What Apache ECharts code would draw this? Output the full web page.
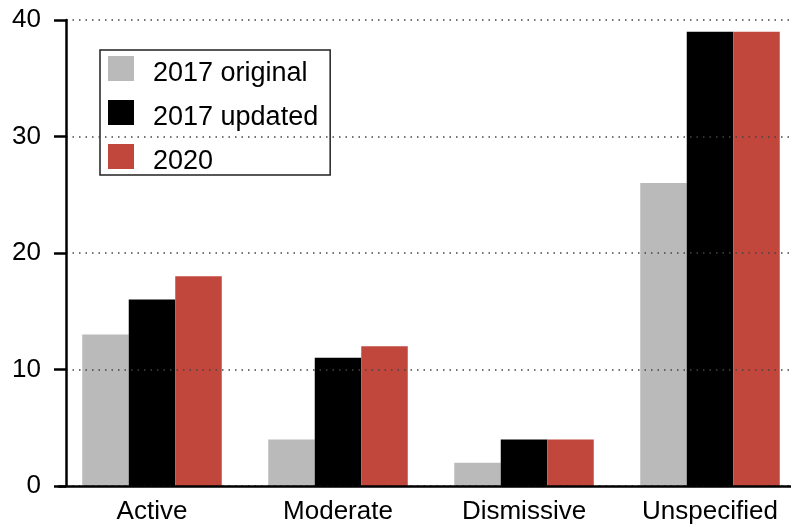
<!DOCTYPE html>
<html>
<head>
<meta charset="utf-8">
<script src="https://cdn.jsdelivr.net/npm/echarts@6/dist/echarts.min.js"></script>
<style>
  html, body { margin: 0; padding: 0; background: #fff; }
  #chart { width: 791px; height: 527px; }
</style>
</head>
<body>
<div id="chart"></div>
<script>
// Counts by stance category for each survey round
const categories = ['Active', 'Moderate', 'Dismissive', 'Unspecified'];
const seriesNames = ['2017 original', '2017 updated', '2020'];
const original2017 = [13, 4, 2, 26];
const updated2017 = [16, 11, 4, 39];
const values2020 = [18, 12, 4, 39];
const yTicks = [0, 10, 20, 30, 40];

const colors = ['#bababa', '#000000', '#c1473c'];
const FONT = 'Liberation Sans, Arial, sans-serif';

const chart = echarts.init(document.getElementById('chart'), null, { renderer: 'canvas' });

const yMin = yTicks[0];
const yMax = yTicks[yTicks.length - 1];
const yStep = yTicks[1] - yTicks[0];

chart.setOption({
  animation: false,
  backgroundColor: '#ffffff',
  color: colors,
  legend: {
    data: seriesNames,
    orient: 'vertical',
    left: 100,
    top: 50,
    itemWidth: 26,
    itemHeight: 25,
    itemGap: 7,
    icon: 'rect',
    padding: [0, 12, 0, 8],
    borderColor: '#222',
    borderWidth: 1.5,
    // labels sit slightly below the centre of their swatches
    formatter: name => '{t|' + name + '}',
    textStyle: {
      fontFamily: FONT, fontSize: 27, color: '#000',
      rich: { t: { fontFamily: FONT, fontSize: 27, lineHeight: 28, color: '#000', padding: [10, 0, 0, 14] } }
    },
    selectedMode: false
  },
  grid: [
    // bars: the category bands run a little past the right edge
    { left: 59, width: 744, top: 20, bottom: 41, outerBoundsMode: 'none', containLabel: false },
    // value axis with gridlines
    { left: 66, right: 0, top: 20, bottom: 41, outerBoundsMode: 'none', containLabel: false }
  ],
  xAxis: [
    {
      gridIndex: 0,
      type: 'category',
      data: categories,
      axisLine: { show: true, lineStyle: { color: '#000', width: 2.5 } },
      axisTick: { show: false },
      axisLabel: { fontFamily: FONT, fontSize: 26, color: '#000', margin: 13 },
      z: 5
    },
    { gridIndex: 1, type: 'value', show: false, min: 0, max: 1 }
  ],
  yAxis: [
    { gridIndex: 0, type: 'value', min: yMin, max: yMax, interval: yStep, show: false },
    {
      gridIndex: 1,
      type: 'value',
      min: yMin,
      max: yMax,
      interval: yStep,
      axisLine: { show: true, lineStyle: { color: '#000', width: 2.5 } },
      axisTick: { show: true, length: 12, lineStyle: { color: '#000', width: 2.5 } },
      axisLabel: { fontFamily: FONT, fontSize: 26, color: '#000', margin: 25 },
      splitLine: { show: true, lineStyle: { color: '#444', width: 1.5, type: [1.5, 5] } },
      z: 4
    }
  ],
  series: [
    { name: seriesNames[0], type: 'bar', xAxisIndex: 0, yAxisIndex: 0, data: original2017,
      barGap: '0%', barCategoryGap: '25%', itemStyle: { color: colors[0] }, z: 3 },
    { name: seriesNames[1], type: 'bar', xAxisIndex: 0, yAxisIndex: 0, data: updated2017,
      barGap: '0%', barCategoryGap: '25%', itemStyle: { color: colors[1] }, z: 3 },
    { name: seriesNames[2], type: 'bar', xAxisIndex: 0, yAxisIndex: 0, data: values2020,
      barGap: '0%', barCategoryGap: '25%', itemStyle: { color: colors[2] }, z: 3 }
  ]
});
</script>
</body>
</html>
